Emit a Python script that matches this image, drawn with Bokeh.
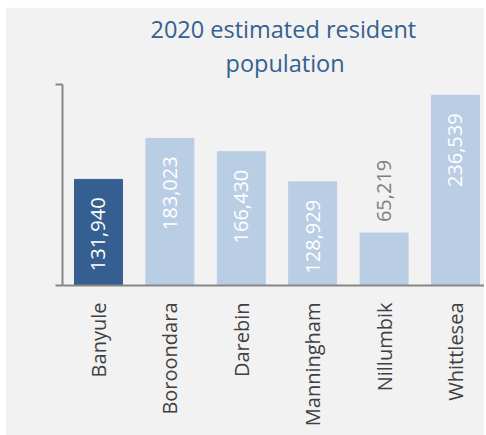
from math import pi
from bokeh.plotting import figure
from bokeh.models import (ColumnDataSource, LabelSet, Range1d, FixedTicker, Title)
from bokeh.core.properties import value
from bokeh.embed import file_html
from bokeh.resources import INLINE

# ---- data ----
categories = ["Banyule", "Boroondara", "Darebin", "Manningham", "Nillumbik", "Whittlesea"]
population = [131940, 183023, 166430, 128929, 65219, 236539]
highlight = "Banyule"
title_lines = ["2020 estimated resident", "population"]
y_max = 250000

# ---- styles ----
BG = "#f2f2f2"
DARK = "#365f91"
LIGHT = "#b9cde5"
AXIS = "#868686"
TXT = "#404040"
TITLE_C = "#35608f"
FONT = "Open Sans"

xs = list(range(len(categories)))
colors = [DARK if c == highlight else LIGHT for c in categories]
labels = [f"{v:,}" for v in population]

# label goes inside if the bar is tall enough for it (in data units)
label_len_units = 95 * y_max / 201
inside = [v > label_len_units for v in population]

src = ColumnDataSource(dict(x=xs, top=population, color=colors, label=labels))
src_in = ColumnDataSource(dict(
    x=[x for x, i in zip(xs, inside) if i],
    y=[v for v, i in zip(population, inside) if i],
    label=[l for l, i in zip(labels, inside) if i]))
src_out = ColumnDataSource(dict(
    x=[x for x, i in zip(xs, inside) if not i],
    y=[v for v, i in zip(population, inside) if not i],
    label=[l for l, i in zip(labels, inside) if not i]))

p = figure(width=479, height=428, output_backend="svg", toolbar_location=None,
           x_range=Range1d(-0.504, 5.406), y_range=Range1d(0, y_max),
           min_border_left=57, min_border_right=0, min_border_top=77,
           min_border_bottom=150)
p.styles = {"margin-left": "5px", "margin-top": "7px"}
p.background_fill_color = BG
p.border_fill_color = BG
p.outline_line_color = None
p.xgrid.visible = False
p.ygrid.visible = False

p.vbar(x="x", top="top", width=0.672, color="color", source=src)

# axes
xa = p.xaxis[0]
xa.ticker = FixedTicker(ticks=xs)
xa.major_label_overrides = {i: c for i, c in enumerate(categories)}
xa.major_label_orientation = pi / 2
xa.major_tick_out = 0
xa.major_tick_in = 0
xa.minor_tick_out = 0
xa.minor_tick_in = 0
xa.axis_line_color = AXIS
xa.axis_line_width = 2
xa.major_label_standoff = 17
xa.major_label_text_font = FONT
xa.major_label_text_font_size = "20px"
xa.major_label_text_color = TXT

ya = p.yaxis[0]
ya.ticker = FixedTicker(ticks=[0, y_max])
ya.major_label_overrides = {0: "", y_max: ""}
ya.major_tick_out = 7
ya.major_tick_in = 0
ya.minor_tick_out = 0
ya.minor_tick_in = 0
ya.axis_line_color = AXIS
ya.axis_line_width = 2
ya.major_tick_line_color = AXIS
ya.major_tick_line_width = 2
ya.major_label_text_font_size = "1px"

# value labels
p.add_layout(LabelSet(x="x", y="y", text="label", source=src_in, angle=pi / 2,
                      text_align="right", text_baseline="middle", y_offset=-18,
                      text_color="white", text_font=value(FONT),
                      text_font_size=value("20px")))
p.add_layout(LabelSet(x="x", y="y", text="label", source=src_out, angle=pi / 2,
                      text_align="left", text_baseline="middle", y_offset=11,
                      text_color="#7f7f7f", text_font=value(FONT),
                      text_font_size=value("20px")))

# title: two lines, placed left-aligned with offsets so they centre at x~284
p.title.visible = False
for line, off, so in zip(reversed(title_lines), [163, 88], [12, -12]):
    p.add_layout(Title(text=line, align="left", offset=off, text_color=TITLE_C,
                       text_font=FONT, text_font_size="23.5px",
                       text_font_style="normal", standoff=so), "above")

open("out.html", "w").write(file_html(p, INLINE))
